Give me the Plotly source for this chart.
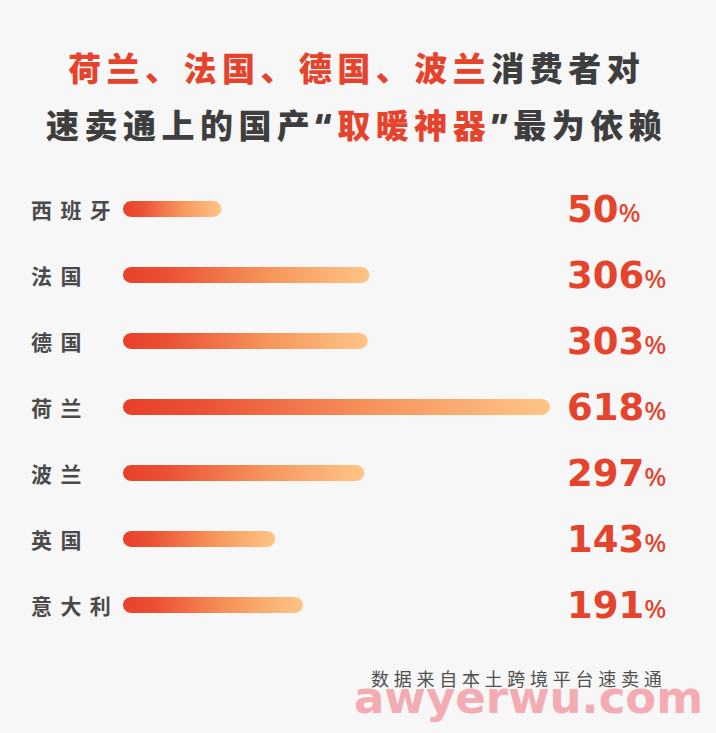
import numpy as np
import plotly.graph_objects as go

# ---------------- data ----------------
categories = ["西班牙", "法国", "德国", "荷兰", "波兰", "英国", "意大利"]
values = [50, 306, 303, 618, 297, 143, 191]
value_labels = ["50", "306", "303", "618", "297", "143", "191"]
title_line1 = [("荷兰、法国、德国、波兰", "accent"), ("消费者对", "dark")]
title_line2 = [("速卖通上的国产“", "dark"), ("取暖神器", "accent"), ("”最为依赖", "dark")]
source_text = "数据来自本土跨境平台速卖通"
watermark_text = "awyerwu.com"

# ---------------- style ----------------
W, H = 716, 733
BG = "#F7F7F7"
ACCENT = "#E5432C"
DARK = "#3E3E3E"
LABEL = "#4A4A4A"
GRADIENT = [[0.0, "#E8402A"], [0.18, "#EB5133"], [0.6, "#F6965C"], [1.0, "#FEC586"]]
SP = "\u2009"  # thin space used as letter spacing

BAR_BASE = -120          # axis value where every bar begins
PX_BAR_LEFT, PX_MAX_RIGHT = 123, 550
k = (PX_MAX_RIGHT - PX_BAR_LEFT) / (max(values) - BAR_BASE)   # px per unit
X_RANGE = [BAR_BASE - 15 / k, max(values) + 22 / k]
x_dom = [(PX_BAR_LEFT - 15) / W, (PX_MAX_RIGHT + 22) / W]
ROW_PX, FIRST_ROW_PX = 66, 209
y_top_px = FIRST_ROW_PX - ROW_PX / 2
y_bot_px = FIRST_ROW_PX + ROW_PX * (len(categories) - 0.5)
y_dom = [1 - y_bot_px / H, 1 - y_top_px / H]
BAR_R_PX = 8

def spaced(s, sep=SP):
    return sep.join(list(s))

fig = go.Figure()

rx = BAR_R_PX / k
ry = BAR_R_PX / ROW_PX
for i, (cat, v) in enumerate(zip(categories, values)):
    t1 = np.linspace(np.pi / 2, 3 * np.pi / 2, 24)
    t2 = np.linspace(-np.pi / 2, np.pi / 2, 24)
    xs = np.concatenate([BAR_BASE + rx + rx * np.cos(t1), v - rx + rx * np.cos(t2)])
    ys = np.concatenate([i + ry * np.sin(t1), i + ry * np.sin(t2)])
    xs = np.append(xs, xs[0]); ys = np.append(ys, ys[0])
    fig.add_trace(go.Scatter(
        x=xs, y=ys, mode="lines", fill="toself",
        line=dict(width=0, color="rgba(0,0,0,0)"),
        fillgradient=dict(type="horizontal", colorscale=GRADIENT),
        hoverinfo="skip", showlegend=False, name=cat))

annotations = []
# category labels
for i, cat in enumerate(categories):
    annotations.append(dict(
        x=29 / W, xref="paper", xanchor="left", y=i, yref="y", yanchor="middle",
        text=spaced(cat, SP + SP), showarrow=False,
        font=dict(family="Noto Sans CJK SC", size=21, color=LABEL, weight=700)))
# value labels
for i, lab in enumerate(value_labels):
    annotations.append(dict(
        x=565 / W, xref="paper", xanchor="left", y=i, yref="y", yanchor="middle",
        text=f"<b>{lab}</b><span style='font-size:26px;font-family:Noto Sans;font-weight:500'>%</span>",
        showarrow=False,
        font=dict(family="DejaVu Sans", size=37, color=ACCENT)))

def colored(parts):
    out = []
    for txt, c in parts:
        col = ACCENT if c == "accent" else DARK
        out.append(f"<span style='color:{col}'>{spaced(txt)}</span>")
    return SP.join(out)

for parts, ypx in [(title_line1, 69), (title_line2, 126)]:
    annotations.append(dict(
        x=354 / W, xref="paper", xanchor="center", y=1 - ypx / H, yref="paper", yanchor="middle",
        text=colored(parts), showarrow=False,
        font=dict(family="Noto Sans, Noto Sans CJK SC", size=33, color=DARK, weight=900)))

annotations.append(dict(
    x=664 / W, xref="paper", xanchor="right", y=1 - 678 / H, yref="paper", yanchor="middle",
    text=spaced(source_text, SP + "\u200A"), showarrow=False,
    font=dict(family="Noto Sans CJK SC", size=18, color="#505050")))

annotations.append(dict(
    x=352 / W, xref="paper", xanchor="left", y=1 - 697 / H, yref="paper", yanchor="middle",
    text=watermark_text, showarrow=False, opacity=0.8,
    font=dict(family="DejaVu Sans", size=45, color="#F29AA2", weight=700)))

fig.update_layout(
    width=W, height=H, margin=dict(l=0, r=0, t=0, b=0),
    paper_bgcolor=BG, plot_bgcolor=BG,
    xaxis=dict(range=X_RANGE, domain=x_dom, visible=False, fixedrange=True),
    yaxis=dict(range=[len(categories) - 0.5, -0.5], domain=y_dom, visible=False, fixedrange=True),
    annotations=annotations, showlegend=False)

fig.write_html("out.html", config={"displayModeBar": False},
               post_script="document.body.style.margin='0';document.body.style.background='#F7F7F7';")
